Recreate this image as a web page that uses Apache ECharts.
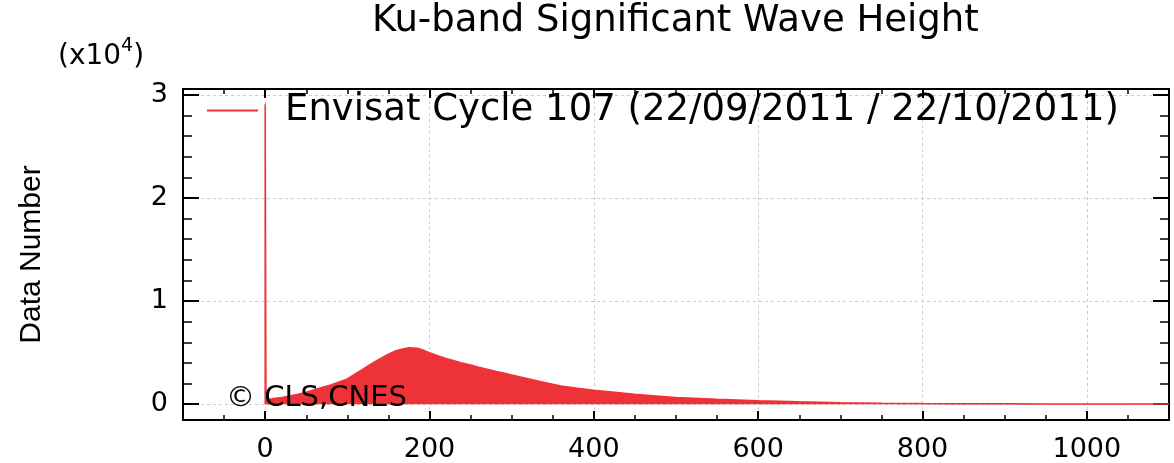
<!DOCTYPE html>
<html>
<head>
<meta charset="utf-8">
<script src="https://cdn.jsdelivr.net/npm/echarts@6/dist/echarts.min.js"></script>
<style>
html,body{margin:0;padding:0;background:#fff;}
#c{width:1174px;height:463px;}
</style>
</head>
<body>
<div id="c"></div>
<script>
// ---- data ----
const titleText = 'Ku-band Significant Wave Height';
const seriesName = 'Envisat Cycle 107 (22/09/2011 / 22/10/2011)';
const yAxisName = 'Data Number';
const copyrightText = '\u00A9 CLS,CNES';
const yScale = 10000; // (x10^4)
const swh = [0, 0, 1, 5, 10, 20, 30, 40, 50, 60, 70, 80, 90, 100, 110, 120, 130, 140, 150, 160,
  170, 175, 180, 185, 190, 200, 210, 220, 230, 240, 250, 260, 270, 280, 290, 300, 320, 340, 360, 380,
  400, 425, 450, 475, 500, 550, 600, 650, 700, 750, 800, 850, 900, 950, 1000, 1050, 1100];
const counts = [0, 29100, 350, 450, 550, 650, 780, 950, 1150, 1400, 1650, 1850, 2150, 2450, 2950, 3450, 3950, 4400, 4850, 5200,
  5400, 5480, 5450, 5420, 5300, 4980, 4700, 4420, 4200, 3980, 3800, 3580, 3380, 3180, 3020, 2820, 2460, 2100, 1750, 1530,
  1350, 1150, 950, 800, 650, 480, 330, 220, 140, 90, 55, 40, 30, 22, 18, 14, 10];
const xTickLabels = [0, 200, 400, 600, 800, 1000];
const yTickLabels = [0, 1, 2, 3];
const xRange = [-100, 1100];
const yRange = [-1540, 30570];

// ---- chart ----
const RED = '#ee3338';
const BLACK = '#000';
const FONT = 'DejaVu Sans';
const chart = echarts.init(document.getElementById('c'), null, {renderer: 'canvas'});

function xAxisDef(pos, withLabels) {
  return {
    type: 'value', gridIndex: 0, position: pos, min: xRange[0], max: xRange[1], splitNumber: 6,
    axisLine: {show: true, onZero: false, lineStyle: {color: BLACK, width: 2}},
    axisTick: {show: true, inside: true, length: 9, lineStyle: {color: BLACK, width: 2}},
    minorTick: {show: true, splitNumber: 4, length: 5, lineStyle: {color: BLACK, width: 1.5}},
    axisLabel: {show: withLabels, margin: 16, fontSize: 27, color: BLACK, fontFamily: FONT,
      formatter: v => xTickLabels.includes(v) ? String(v) : ''},
    splitLine: {show: withLabels, lineStyle: {color: '#cccccc', width: 1, type: [3, 3]}},
    minorSplitLine: {show: false}
  };
}
function yAxisDef(pos, withLabels) {
  const a = {
    type: 'value', gridIndex: 0, position: pos, min: yRange[0], max: yRange[1], splitNumber: 3,
    axisLine: {show: true, onZero: false, lineStyle: {color: BLACK, width: 2}},
    axisTick: {show: true, inside: true, length: 16, lineStyle: {color: BLACK, width: 2}},
    minorTick: {show: true, splitNumber: 5, length: 9, lineStyle: {color: BLACK, width: 1.5}},
    axisLabel: {show: withLabels, margin: 15, fontSize: 27, color: BLACK, fontFamily: FONT,
      formatter: v => { const u = v / yScale; return yTickLabels.includes(u) ? String(u) : ''; }},
    splitLine: {show: withLabels, lineStyle: {color: '#cccccc', width: 1, type: [3, 3]}},
    minorSplitLine: {show: false}
  };
  if (withLabels) {
    Object.assign(a, {
      name: yAxisName, nameLocation: 'middle', nameRotate: 90, nameGap: 136,
      nameTextStyle: {fontFamily: 'Liberation Sans', fontSize: 30, color: BLACK}
    });
  }
  return a;
}

const option = {
  backgroundColor: '#fff',
  animation: false,
  textStyle: {fontFamily: FONT},
  title: [
    {text: titleText, left: 372, top: 3, padding: 0,
      textStyle: {fontSize: 37, fontWeight: 'normal', color: BLACK, fontFamily: FONT}},
    {text: '{a|(x10}{s|4}{a|)}', left: 58, top: 37, padding: 0,
      textStyle: {fontWeight: 'normal', rich: {
        a: {fontSize: 28, fontWeight: 'normal', color: BLACK, fontFamily: FONT},
        s: {fontSize: 19, fontWeight: 'normal', color: BLACK, fontFamily: FONT, padding: [0, 0, 20, 0]}
      }}},
    {text: copyrightText, left: 226, top: 384, padding: 0,
      textStyle: {fontSize: 29, fontWeight: 'normal', color: BLACK, fontFamily: FONT}}
  ],
  legend: {
    show: true, left: 202, top: 87, itemWidth: 51, itemHeight: 2,
    data: [{name: seriesName, icon: 'rect'}],
    textStyle: {fontSize: 37, color: BLACK, fontFamily: FONT, padding: [0, 0, 0, 22],
      width: 880, overflow: 'truncate', ellipsis: ''}
  },
  grid: {left: 183, top: 89, right: 5, bottom: 41, containLabel: false},
  xAxis: [xAxisDef('bottom', true), xAxisDef('top', false)],
  yAxis: [yAxisDef('left', true), yAxisDef('right', false)],
  series: [{
    type: 'line', name: seriesName, xAxisIndex: 0, yAxisIndex: 0,
    data: swh.map((x, i) => [x, counts[i]]),
    symbol: 'none', showSymbol: false, clip: true,
    lineStyle: {color: RED, width: 1.5},
    itemStyle: {color: RED},
    areaStyle: {color: RED, opacity: 1}
  }]
};
chart.setOption(option);
</script>
</body>
</html>
